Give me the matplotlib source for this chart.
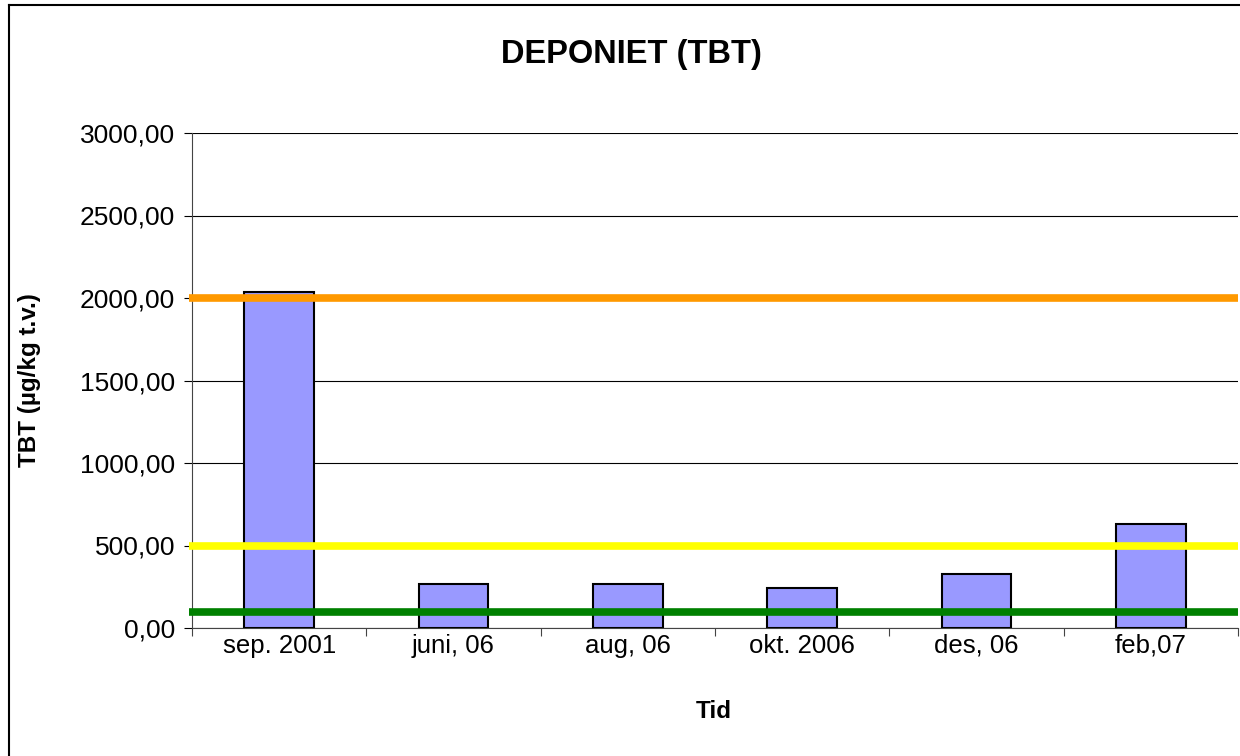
import matplotlib
matplotlib.use("Agg")
import matplotlib.pyplot as plt
from matplotlib.lines import Line2D

categories = ["sep. 2001", "juni, 06", "aug, 06", "okt. 2006", "des, 06", "feb,07"]
tbt_values = [2035, 265, 265, 240, 327, 628]
limit_values = [2000, 500, 100]
limit_colors = ["#FF9900", "#FFFF00", "#008000"]
yticks = [0, 500, 1000, 1500, 2000, 2500, 3000]

plt.rcParams['font.family'] = ['Liberation Sans', 'DejaVu Sans']

W, H = 1240, 756
fig = plt.figure(figsize=(12.4, 7.56), dpi=100)
ax = fig.add_axes([192/W, 1-628/H, (1238-192)/W, (628-133)/H])

x = list(range(len(categories)))
ax.bar(x, tbt_values, width=0.4, color="#9999FF", edgecolor="black", linewidth=1.5, zorder=3)

for v, c in zip(limit_values, limit_colors):
    ax.plot([-0.52, 5.5], [v, v], color=c, linewidth=5.5, solid_capstyle='butt', zorder=4, clip_on=False)

ax.set_xlim(-0.5, 5.5)
ax.set_ylim(0, 3000)
ax.set_yticks(yticks)
ax.set_yticklabels([f"{t:.2f}".replace(".", ",") for t in yticks], fontsize=19)
ax.yaxis.grid(True, color="black", linewidth=0.8, zorder=0)
ax.set_axisbelow(True)

ax.set_xticks([i - 0.5 for i in range(len(categories) + 1)], minor=False)
ax.set_xticklabels([])
ax.set_xticks(x, minor=True)
ax.set_xticklabels(categories, minor=True, fontsize=18.5)
ax.tick_params(axis='x', which='minor', length=0, pad=4)
ax.tick_params(axis='x', which='major', length=6, direction='out', width=0.8, colors='#444444')
ax.tick_params(axis='y', length=6, direction='out', width=0.8, pad=6)

for s in ["top", "right"]:
    ax.spines[s].set_visible(False)
ax.spines["left"].set_color("#444444")
ax.spines["bottom"].set_color("#444444")

fig.text(30/W, 1-380/H, "TBT (µg/kg t.v.)", rotation=90, ha='center', va='center',
         fontsize=17.5, fontweight='bold')
fig.text(714/W, 1-711/H, "Tid", ha='center', va='center', fontsize=17.5, fontweight='bold')
fig.text(631/W, 1-55/H, "DEPONIET (TBT)", ha='center', va='center', fontsize=23.5, fontweight='bold')

# outer chart border
fig.add_artist(Line2D([8.5/W, 8.5/W], [0, 1-4.5/H], color='black', linewidth=1.5, transform=fig.transFigure))
fig.add_artist(Line2D([8.5/W, 1], [1-4.5/H, 1-4.5/H], color='black', linewidth=1.5, transform=fig.transFigure))

fig.savefig("out.png", dpi=100, facecolor='white')
